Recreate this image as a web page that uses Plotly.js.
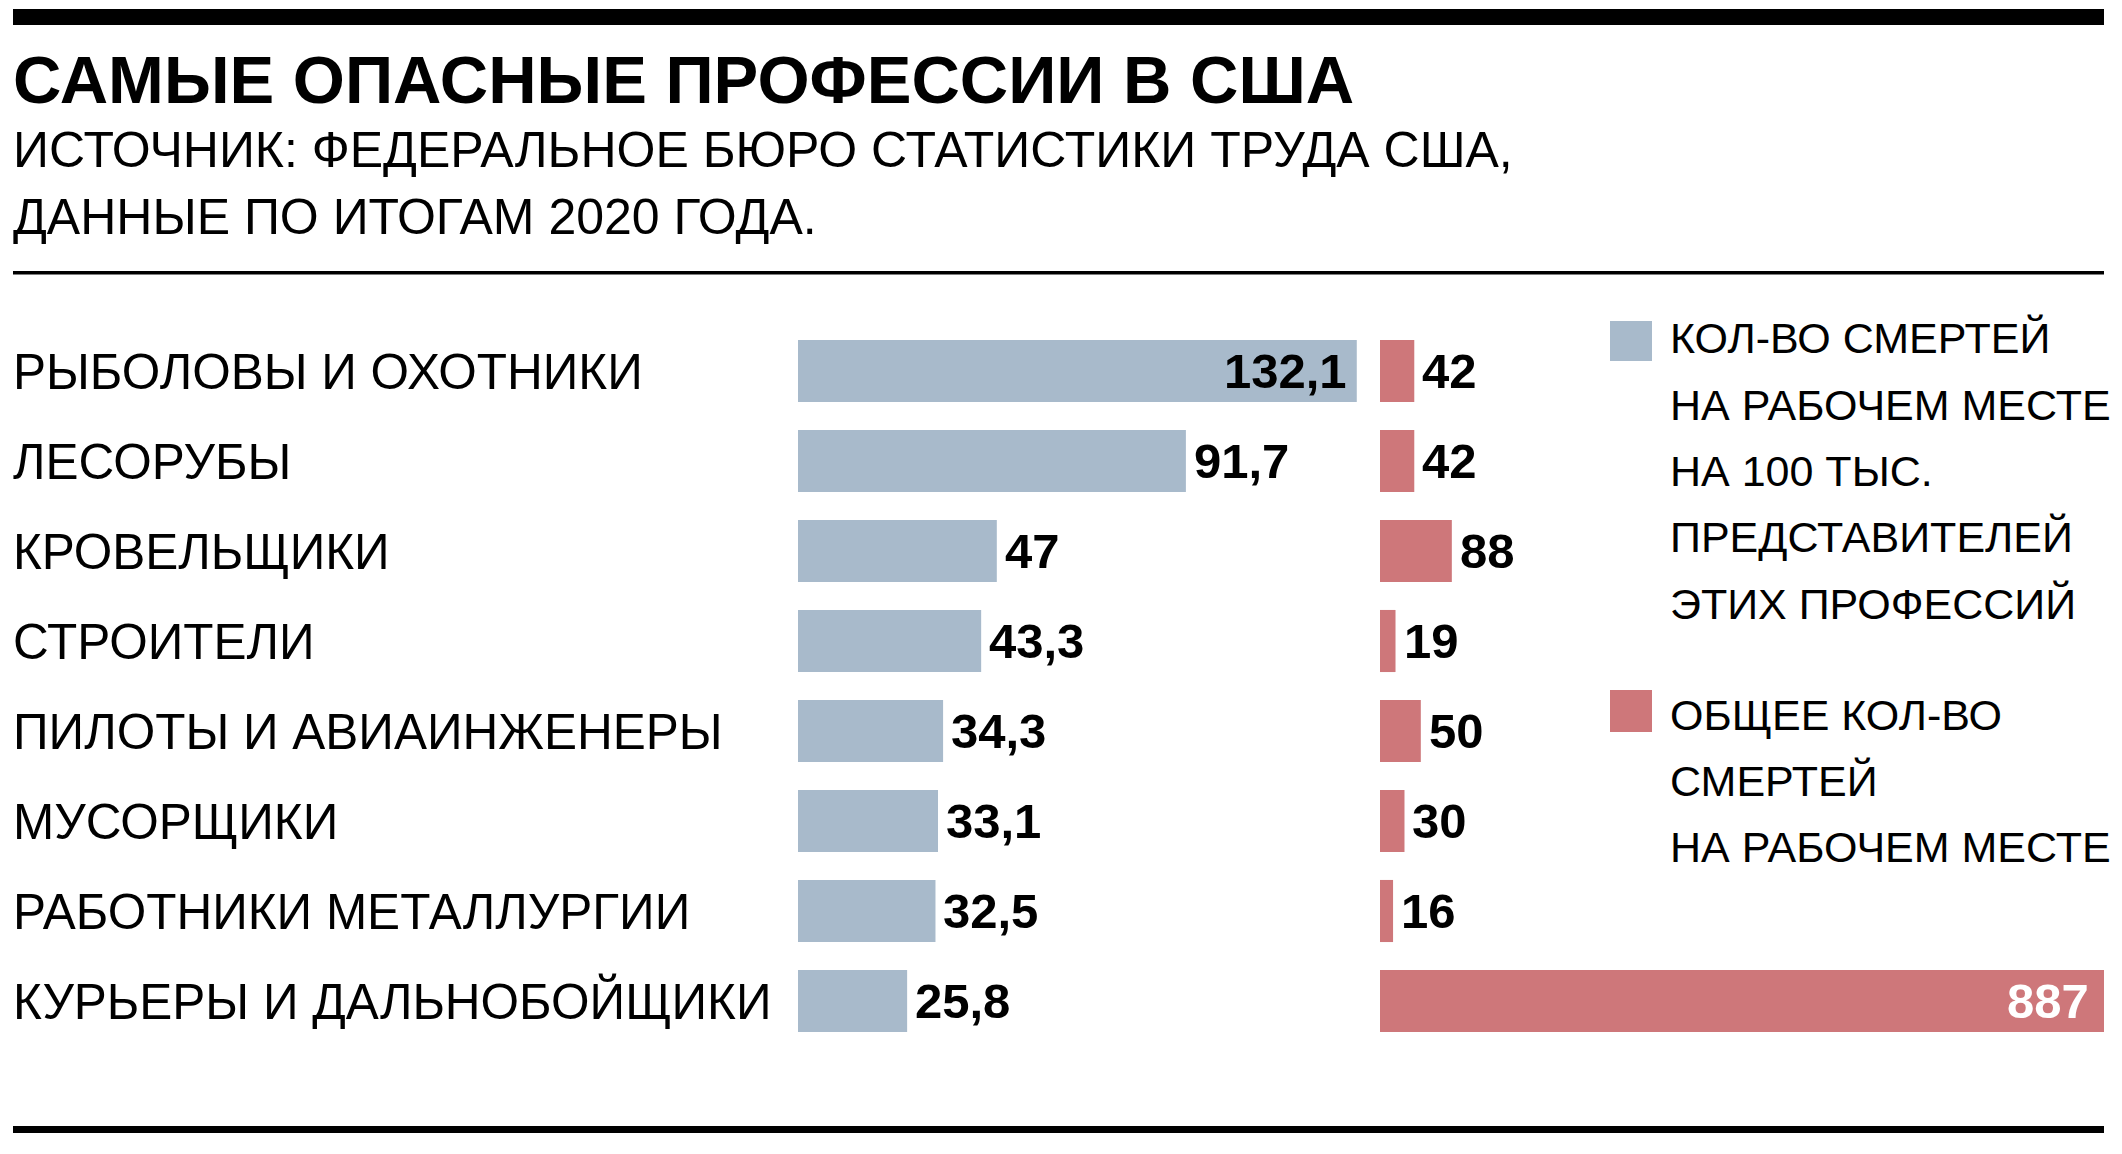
<!DOCTYPE html>
<html>
<head>
<meta charset="utf-8">
<script src="https://cdn.plot.ly/plotly-3.0.1.min.js"></script>
<style>
html,body{margin:0;padding:0;background:#fff;}
#chart{width:2122px;height:1154px;}
</style>
</head>
<body>
<div id="chart"></div>
<script>
// ---- data ----
const categories = [
  "РЫБОЛОВЫ И ОХОТНИКИ",
  "ЛЕСОРУБЫ",
  "КРОВЕЛЬЩИКИ",
  "СТРОИТЕЛИ",
  "ПИЛОТЫ И АВИАИНЖЕНЕРЫ",
  "МУСОРЩИКИ",
  "РАБОТНИКИ МЕТАЛЛУРГИИ",
  "КУРЬЕРЫ И ДАЛЬНОБОЙЩИКИ"
];
const ratePer100k = [132.1, 91.7, 47, 43.3, 34.3, 33.1, 32.5, 25.8];
const totalDeaths = [42, 42, 88, 19, 50, 30, 16, 887];

const titleText = "САМЫЕ ОПАСНЫЕ ПРОФЕССИИ В США";
const subtitleLines = [
  "ИСТОЧНИК: ФЕДЕРАЛЬНОЕ БЮРО СТАТИСТИКИ ТРУДА США,",
  "ДАННЫЕ ПО ИТОГАМ 2020 ГОДА."
];
const legendRateLines = [
  "КОЛ-ВО СМЕРТЕЙ",
  "НА РАБОЧЕМ МЕСТЕ",
  "НА 100 ТЫС.",
  "ПРЕДСТАВИТЕЛЕЙ",
  "ЭТИХ ПРОФЕССИЙ"
];
const legendTotalLines = [
  "ОБЩЕЕ КОЛ-ВО",
  "СМЕРТЕЙ",
  "НА РАБОЧЕМ МЕСТЕ"
];

// ---- layout helpers ----
const W = 2122, H = 1154;
const PX = x => x / W;
const PY = y => 1 - y / H;
const FONT = '"Liberation Sans", Arial, Helvetica, sans-serif';
const BLUE = '#a8bacb';
const RED = '#ce777a';
const fmt = v => String(v).replace('.', ',');
const VALUE_FONT = {family: FONT, size: 49, color: '#000', weight: 'bold'};

const traceRate = {
  type: 'bar', orientation: 'h',
  y: categories, x: ratePer100k,
  xaxis: 'x', yaxis: 'y',
  width: 0.69,
  marker: {color: BLUE, line: {width: 0}},
  hoverinfo: 'skip'
};
const traceTotal = {
  type: 'bar', orientation: 'h',
  y: categories, x: totalDeaths,
  xaxis: 'x2', yaxis: 'y',
  width: 0.69,
  marker: {color: RED, line: {width: 0}},
  hoverinfo: 'skip'
};

const hiddenAxis = {showgrid: false, zeroline: false, showticklabels: false, showline: false, ticks: '', fixedrange: true};

const annotations = [];
annotations.push({
  xref: 'paper', yref: 'paper', x: PX(11), y: PY(80),
  xanchor: 'left', yanchor: 'middle', showarrow: false,
  text: titleText,
  font: {family: FONT, size: 67, color: '#000', weight: 'bold'}
});
const subY = [150, 217];
subtitleLines.forEach((t, i) => annotations.push({
  xref: 'paper', yref: 'paper', x: PX(11), y: PY(subY[i]),
  xanchor: 'left', yanchor: 'middle', showarrow: false,
  text: t, font: {family: FONT, size: 50, color: '#000'}
}));
categories.forEach(c => annotations.push({
  xref: 'paper', yref: 'y', x: PX(11), y: c,
  xanchor: 'left', yanchor: 'middle', showarrow: false,
  text: c, font: {family: FONT, size: 49.5, color: '#000'}
}));
// value labels, placed at the data values through the axes
ratePer100k.forEach((v, i) => {
  const inside = v > 100;
  annotations.push({
    xref: 'x', yref: 'y', x: v, y: categories[i],
    xanchor: inside ? 'right' : 'left', yanchor: 'middle',
    xshift: inside ? -8 : 6, showarrow: false,
    text: fmt(v), font: VALUE_FONT
  });
});
totalDeaths.forEach((v, i) => {
  const inside = v > 500;
  annotations.push({
    xref: 'x2', yref: 'y', x: v, y: categories[i],
    xanchor: inside ? 'right' : 'left', yanchor: 'middle',
    xshift: inside ? -13 : 6, showarrow: false,
    text: String(v), font: Object.assign({}, VALUE_FONT, {color: inside ? '#fff' : '#000'})
  });
});
const legRateY = [338, 405, 471, 537, 604];
legendRateLines.forEach((t, i) => annotations.push({
  xref: 'paper', yref: 'paper', x: PX(1668), y: PY(legRateY[i]),
  xanchor: 'left', yanchor: 'middle', showarrow: false,
  text: t, font: {family: FONT, size: 43, color: '#000'}
}));
const legTotY = [715, 781, 847];
legendTotalLines.forEach((t, i) => annotations.push({
  xref: 'paper', yref: 'paper', x: PX(1668), y: PY(legTotY[i]),
  xanchor: 'left', yanchor: 'middle', showarrow: false,
  text: t, font: {family: FONT, size: 43, color: '#000'}
}));

const shapes = [
  {type: 'rect', xref: 'paper', yref: 'paper', x0: PX(13), x1: PX(2104), y0: PY(9), y1: PY(25), fillcolor: '#000', line: {width: 0}},
  {type: 'rect', xref: 'paper', yref: 'paper', x0: PX(13), x1: PX(2104), y0: PY(271), y1: PY(274.5), fillcolor: '#000', line: {width: 0}},
  {type: 'rect', xref: 'paper', yref: 'paper', x0: PX(13), x1: PX(2104), y0: PY(1126), y1: PY(1133), fillcolor: '#000', line: {width: 0}},
  {type: 'rect', xref: 'paper', yref: 'paper', x0: PX(1610), x1: PX(1652), y0: PY(321), y1: PY(361), fillcolor: BLUE, line: {width: 0}},
  {type: 'rect', xref: 'paper', yref: 'paper', x0: PX(1610), x1: PX(1652), y0: PY(690), y1: PY(732), fillcolor: RED, line: {width: 0}}
];

const layout = {
  width: W, height: H,
  margin: {l: 0, r: 0, t: 0, b: 0, pad: 0},
  paper_bgcolor: '#fff', plot_bgcolor: 'rgba(0,0,0,0)',
  showlegend: false,
  barmode: 'overlay',
  font: {family: FONT, color: '#000'},
  xaxis: Object.assign({}, hiddenAxis, {domain: [PX(798), PX(798 + 135 * 4.23)], range: [0, 135], anchor: 'y'}),
  xaxis2: Object.assign({}, hiddenAxis, {domain: [PX(1380), PX(2104)], range: [0, 887], anchor: 'y'}),
  yaxis: Object.assign({}, hiddenAxis, {type: 'category', categoryorder: 'array', categoryarray: categories, range: [7.5, -0.5], domain: [PY(1046), PY(326)]}),
  annotations: annotations,
  shapes: shapes
};

Plotly.newPlot('chart', [traceRate, traceTotal], layout, {staticPlot: true, displayModeBar: false});
</script>
</body>
</html>
